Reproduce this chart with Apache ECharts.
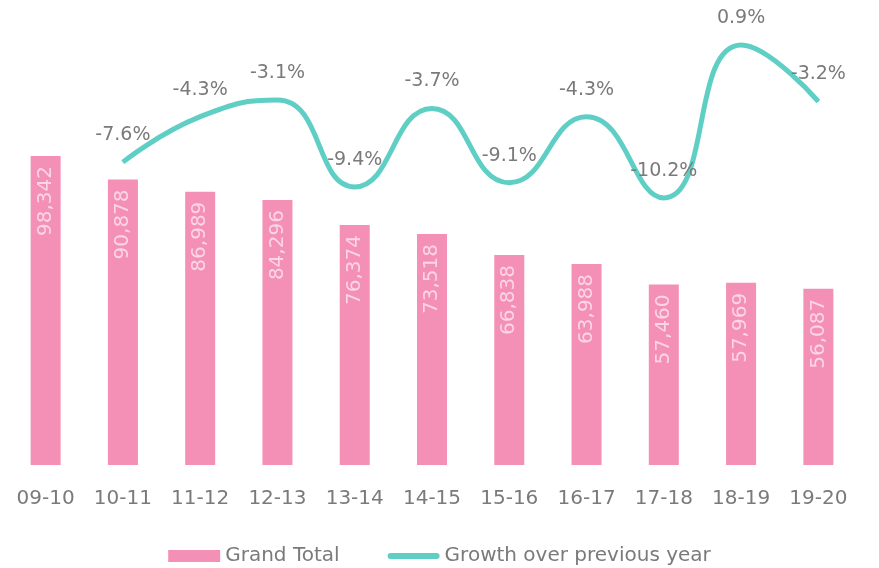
<!DOCTYPE html>
<html>
<head>
<meta charset="utf-8">
<script src="https://cdn.jsdelivr.net/npm/echarts@6/dist/echarts.min.js"></script>
<style>
  html, body { margin: 0; padding: 0; background: #fff; }
  #chart { width: 879px; height: 568px; }
</style>
</head>
<body>
<div id="chart"></div>
<script>
// 学年
const categories = ['09-10', '10-11', '11-12', '12-13', '13-14', '14-15', '15-16', '16-17', '17-18', '18-19', '19-20']
// Grand Total
const grandTotal = [98342, 90878, 86989, 84296, 76374, 73518, 66838, 63988, 57460, 57969, 56087]
// 同比增长 (%)
const growth = [null, -7.6, -4.3, -3.1, -9.4, -3.7, -9.1, -4.3, -10.2, 0.9, -3.2]

const textColor = '#7a7a7a'
const fontFamily = '"DejaVu Sans", sans-serif'
const lineColor = '#5fcfc5'

const chart = echarts.init(document.getElementById('chart'))
chart.setOption({
  animation: false,
  textStyle: { fontFamily: fontFamily },
  grid: { left: 7, right: 22, top: 10, bottom: 103, containLabel: false },
  legend: {
    top: 541,
    left: 'center',
    itemWidth: 52,
    itemHeight: 12,
    itemGap: 48,
    textStyle: { fontSize: 20, color: textColor, fontFamily: fontFamily },
    data: [
      { name: 'Grand Total', icon: 'rect' },
      { name: 'Growth over previous year', icon: 'path://M3,0L49,0A3,3,0,0,1,49,6L3,6A3,3,0,0,1,3,0Z', itemStyle: { color: lineColor } }
    ]
  },
  xAxis: {
    type: 'category',
    data: categories,
    axisLine: { show: false },
    axisTick: { show: false },
    axisLabel: { fontSize: 20, color: textColor, margin: 24 }
  },
  yAxis: [
    { type: 'value', min: 0, max: 144800, show: false },
    { type: 'value', min: -29.58, max: 3.44, show: false }
  ],
  series: [
    {
      name: 'Grand Total',
      type: 'bar',
      data: grandTotal,
      barWidth: 30,
      itemStyle: { color: '#f48fb5' },
      label: {
        show: true,
        position: 'insideTop',
        rotate: 90,
        align: 'right',
        verticalAlign: 'middle',
        distance: 10,
        fontSize: 20,
        color: '#fbd6e5',
        formatter: p => p.value.toLocaleString('en-US')
      }
    },
    {
      name: 'Growth over previous year',
      type: 'line',
      yAxisIndex: 1,
      data: growth,
      smooth: 0.5,
      showSymbol: true,
      symbol: 'circle',
      symbolSize: 1,
      lineStyle: { width: 5, color: lineColor },
      itemStyle: { color: lineColor },
      label: {
        show: true,
        position: 'top',
        distance: 17,
        fontSize: 19,
        color: textColor,
        formatter: p => p.value.toFixed(1) + '%'
      }
    }
  ]
})
</script>
</body>
</html>
